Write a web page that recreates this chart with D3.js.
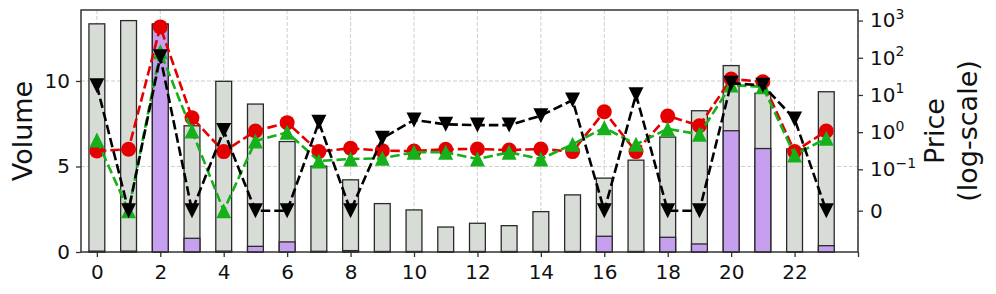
<!DOCTYPE html>
<html>
<head>
<meta charset="utf-8">
<script src="https://cdn.jsdelivr.net/npm/d3@7"></script>
<style>
  body { margin: 0; background: #fff; }
  text { font-family: "DejaVu Sans", sans-serif; fill: #111; }
</style>
</head>
<body>
<div class="chart"></div>
<script>
var hours = [0, 1, 2, 3, 4, 5, 6, 7, 8, 9, 10, 11, 12, 13, 14, 15, 16, 17, 18, 19, 20, 21, 22, 23];
var volume = [13.34, 13.53, 13.34, 7.38, 9.98, 8.65, 6.46, 5.02, 4.22, 2.83, 2.46, 1.46,
  1.68, 1.54, 2.36, 3.34, 4.32, 5.37, 6.72, 8.26, 10.9, 9.28, 6.03, 9.37];
var volumePart = [0.05, 0.05, 13.3, 0.80, 0.05, 0.33, 0.59, 0.04, 0.08, 0.03, 0.03, 0.02,
  0.03, 0.03, 0.03, 0.03, 0.92, 0.03, 0.86, 0.47, 7.09, 6.05, 0.02, 0.37];
var priceRed = [0.312, 0.347, 676, 2.45, 0.30, 1.07, 1.8, 0.30, 0.368, 0.318, 0.31, 0.347,
  0.353, 0.33, 0.353, 0.30, 3.55, 0.30, 2.72, 1.49, 26.9, 22.7, 0.30, 1.07];
var priceGreen = [0.616, 0, 145, 1.07, 0, 0.58, 0.99, 0.168, 0.19, 0.198, 0.288, 0.288,
  0.19, 0.288, 0.19, 0.472, 1.32, 0.47, 1.22, 0.877, 18.5, 16.6, 0.243, 0.684];
var priceBlack = [17.8, 0, 107, 0, 1.1, 0, 0, 1.84, 0, 0.684, 2.13, 1.62,
  1.55, 1.55, 2.77, 7.3, 0, 10.2, 0, 0, 20.6, 18.2, 2.26, 0];
var xTicks = [0, 2, 4, 6, 8, 10, 12, 14, 16, 18, 20, 22, 24];
var volTicks = [0, 5, 10];
var priceTicks = [0, 0.1, 1, 10, 100, 1000];
var priceTickExp = ["", "\u22121", "0", "1", "2", "3"];

var margin = {top: 10, right: 138, bottom: 42, left: 81},
  width = 996 - margin.left - margin.right,
  height = 294 - margin.top - margin.bottom;

// matplotlib style symlog, linthresh 0.1, linscale 1
function symlog(v) {
  var c = 0.1, a = 1 / (1 - 1 / 10), m = Math.abs(v);
  var t = m <= c ? (m / c) * a : a + Math.log10(m / c);
  return v < 0 ? -t : t;
}

var svg = d3.select(".chart")
  .append("svg")
    .attr("width", 996)
    .attr("height", 294)
  .append("g")
    .attr("transform", "translate(" + margin.left + "," + margin.top + ")");

var x = d3.scaleLinear().domain([-0.5, 24]).range([0, width]);
var y = d3.scaleLinear().domain([0, 14.15]).range([height, 0]);
var yr = d3.scaleLinear().domain([symlog(-0.1), symlog(1925)]).range([height, 0]);
function py(v) { return yr(symlog(v)); }

// grid
svg.append("g").selectAll("line")
  .data(xTicks)
  .enter().append("line")
    .attr("x1", function(d) { return x(d); })
    .attr("x2", function(d) { return x(d); })
    .attr("y1", 0).attr("y2", height)
    .attr("stroke", "#cfcfcf").attr("stroke-width", 1)
    .attr("stroke-dasharray", "4,2");
svg.append("g").selectAll("line")
  .data(volTicks.slice(1))
  .enter().append("line")
    .attr("x1", 0).attr("x2", width)
    .attr("y1", function(d) { return y(d); })
    .attr("y2", function(d) { return y(d); })
    .attr("stroke", "#cfcfcf").attr("stroke-width", 1)
    .attr("stroke-dasharray", "4,2");

// bars
var bw = x(0.5) - x(0);
svg.append("g").selectAll("rect")
  .data(hours)
  .enter().append("rect")
    .attr("x", function(d) { return x(d) - bw / 2; })
    .attr("y", function(d, i) { return y(volume[i]); })
    .attr("width", bw)
    .attr("height", function(d, i) { return y(0) - y(volume[i]); })
    .attr("fill", "#d8dcd6")
    .attr("stroke", "#2a2a2a").attr("stroke-width", 1.3);
svg.append("g").selectAll("rect")
  .data(hours)
  .enter().append("rect")
    .attr("x", function(d) { return x(d) - bw / 2; })
    .attr("y", function(d, i) { return y(volumePart[i]); })
    .attr("width", bw)
    .attr("height", function(d, i) { return y(0) - y(volumePart[i]); })
    .attr("fill", "#c79fef")
    .attr("stroke", "#2a2a2a").attr("stroke-width", 1.3);

// price lines
function drawSeries(vals, color, marker) {
  var line = d3.line()
    .x(function(d, i) { return x(hours[i]); })
    .y(function(d) { return py(d); });
  svg.append("path")
    .datum(vals)
    .attr("d", line)
    .attr("fill", "none")
    .attr("stroke", color)
    .attr("stroke-width", 2.6)
    .attr("stroke-dasharray", "9.5,4");
  var s = 7.5;
  svg.append("g").selectAll("path")
    .data(vals)
    .enter().append("path")
      .attr("transform", function(d, i) { return "translate(" + x(hours[i]) + "," + py(d) + ")"; })
      .attr("d", function() {
        if (marker == "o") return d3.arc()({innerRadius: 0, outerRadius: s, startAngle: 0, endAngle: 2 * Math.PI});
        if (marker == "^") return "M0," + (-s) + "L" + (-s) + "," + s + "L" + s + "," + s + "Z";
        return "M0," + s + "L" + (-s) + "," + (-s) + "L" + s + "," + (-s) + "Z";
      })
      .attr("fill", color);
}
drawSeries(priceRed, "#e50000", "o");
drawSeries(priceGreen, "#15b01a", "^");
drawSeries(priceBlack, "#000", "v");

// frame
svg.append("rect")
  .attr("width", width).attr("height", height)
  .attr("fill", "none").attr("stroke", "#333").attr("stroke-width", 1.5);

// x axis
var xAxis = svg.append("g")
  .attr("transform", "translate(0," + height + ")")
  .call(d3.axisBottom(x).tickValues(xTicks).tickSize(5).tickPadding(8)
    .tickFormat(function(d) { return d == 24 ? "" : d; }));
// left axis
var yAxis = svg.append("g")
  .call(d3.axisLeft(y).tickValues(volTicks).tickSize(5).tickPadding(6));
// right axis
var rAxis = svg.append("g")
  .attr("transform", "translate(" + width + ",0)")
  .call(d3.axisRight(yr).tickValues(priceTicks.map(symlog)).tickSize(5).tickPadding(7).tickFormat(""));
rAxis.selectAll(".tick").each(function(d, i) {
  var t = d3.select(this).select("text");
  if (i == 0) { t.text("0"); return; }
  t.append("tspan").text("10");
  t.append("tspan").text(priceTickExp[i])
    .attr("font-size", "0.7em").attr("dy", "-0.6em");
});

[xAxis, yAxis, rAxis].forEach(function(a) {
  a.select(".domain").remove();
  a.selectAll(".tick line").attr("stroke", "#333").attr("stroke-width", 1.3);
  a.selectAll("text").attr("font-size", 20).attr("font-family", "DejaVu Sans").attr("fill", "#111");
});

// axis titles
svg.append("text")
  .attr("text-anchor", "middle")
  .attr("transform", "translate(" + (-margin.left + 32) + "," + (height / 2) + ")rotate(-90)")
  .attr("font-size", 27)
  .text("Volume");
var rt = svg.append("text")
  .attr("text-anchor", "middle")
  .attr("transform", "translate(" + (width + 89) + "," + (height / 2) + ")rotate(-90)")
  .attr("font-size", 27);
rt.append("tspan").attr("x", 0).attr("dy", "-0.1em").text("Price");
rt.append("tspan").attr("x", 0).attr("dy", "1.2em").text("(log-scale)");
</script>
</body>
</html>
